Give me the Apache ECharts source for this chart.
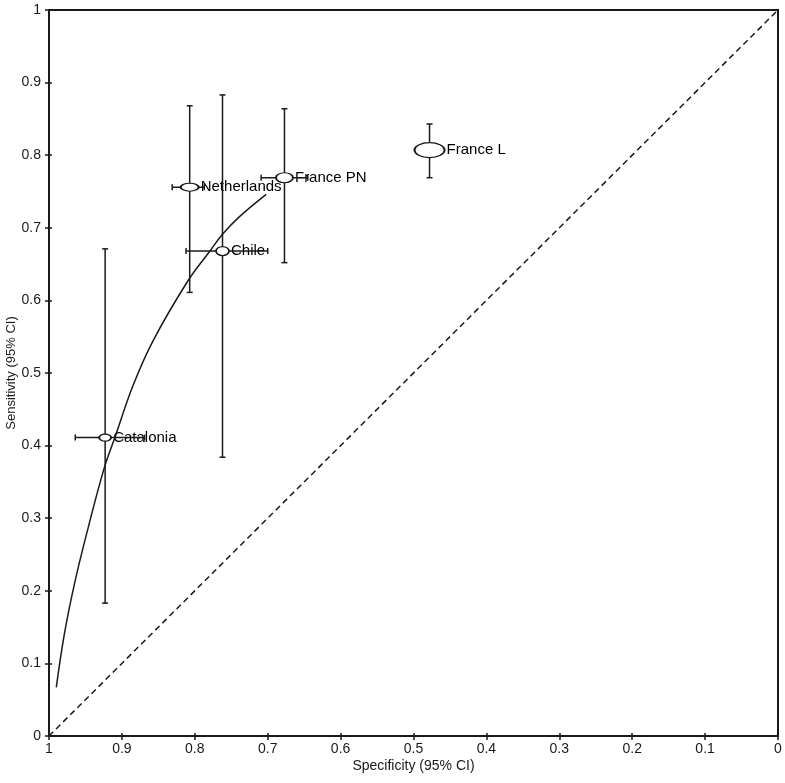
<!DOCTYPE html>
<html>
<head>
<meta charset="utf-8">
<script src="https://cdn.jsdelivr.net/npm/echarts@6/dist/echarts.min.js"></script>
<style>
  html, body { margin: 0; padding: 0; background: #fff; }
  #chart { width: 785px; height: 783px; }
</style>
</head>
<body>
<div id="chart"></div>
<script>
// studies and their estimates
const studies = ['Catalonia', 'Netherlands', 'Chile', 'France PN', 'France L']
const specificity = [0.923, 0.807, 0.762, 0.677, 0.478]
const specLow = [0.869, 0.787, 0.700, 0.645, 0.468]
const specHigh = [0.964, 0.831, 0.812, 0.709, 0.488]
const sensitivity = [0.411, 0.756, 0.668, 0.769, 0.807]
const sensLow = [0.183, 0.611, 0.384, 0.652, 0.769]
const sensHigh = [0.671, 0.868, 0.883, 0.864, 0.843]

// SROC curve, specificity / sensitivity pairs
const srocSpec = [0.990, 0.979, 0.965, 0.947, 0.924, 0.910, 0.885, 0.858, 0.810, 0.780, 0.762, 0.739, 0.702]
const srocSens = [0.067, 0.140, 0.210, 0.284, 0.370, 0.410, 0.482, 0.543, 0.626, 0.667, 0.691, 0.715, 0.746]

// chance line
const chanceSpec = [1, 0]
const chanceSens = [0, 1]

// marker size in px (study weight), width x height
const markerSize = [[12, 7], [18, 8], [13, 9], [17, 10], [30, 15]]

const font = 'Liberation Sans, Arial, sans-serif'
const ink = '#1a1a1a'
const ellipsePath = 'path://M0,1A1,1,0,1,1,2,1A1,1,0,1,1,0,1Z'

const pointData = studies.map((name, i) => ({ name: name, value: [specificity[i], sensitivity[i]] }))
const barData = studies.map((name, i) => [specificity[i], sensitivity[i], specLow[i], specHigh[i], sensLow[i], sensHigh[i]])

// axes are pulled 3px into the plot so the 7px ticks cross the frame line
const tickShift = 3

const option = {
  animation: false,
  backgroundColor: '#fff',
  grid: {
    left: 49,
    right: 7,
    top: 10,
    bottom: 47,
    outerBoundsMode: 'none',
    containLabel: false,
    show: true,
    borderColor: ink,
    borderWidth: 2
  },
  xAxis: {
    type: 'value',
    inverse: true,
    min: 0,
    max: 1,
    interval: 0.1,
    position: 'bottom',
    offset: -tickShift,
    name: 'Specificity (95% CI)',
    nameLocation: 'middle',
    nameGap: 23 + tickShift,
    nameMoveOverlap: false,
    nameTextStyle: { fontFamily: font, fontSize: 14, color: ink },
    axisLine: { show: false, onZero: false },
    splitLine: { show: false },
    axisTick: { show: true, inside: false, length: 4 + tickShift, lineStyle: { color: ink, width: 1.5 } },
    axisLabel: { fontFamily: font, fontSize: 14, color: ink, margin: 6 + tickShift }
  },
  yAxis: {
    type: 'value',
    min: 0,
    max: 1,
    interval: 0.1,
    position: 'left',
    offset: -tickShift,
    name: 'Sensitivity (95% CI)',
    nameLocation: 'middle',
    nameGap: 31 + tickShift,
    nameMoveOverlap: false,
    nameTextStyle: { fontFamily: font, fontSize: 13, color: ink },
    axisLine: { show: false, onZero: false },
    splitLine: { show: false },
    axisTick: { show: true, inside: false, length: 4 + tickShift, lineStyle: { color: ink, width: 1.5 } },
    axisLabel: { fontFamily: font, fontSize: 14, color: ink, margin: 8 + tickShift }
  },
  series: [
    {
      // study names, drawn under the bars like in the original
      type: 'scatter',
      z: 1,
      symbol: ellipsePath,
      symbolSize: (v, p) => markerSize[p.dataIndex],
      itemStyle: { color: 'rgba(0,0,0,0)', opacity: 1 },
      label: {
        show: true,
        position: 'right',
        distance: 2,
        formatter: '{b}',
        fontFamily: font,
        fontSize: 15,
        color: '#000',
        opacity: 1,
        textBorderWidth: 0
      },
      data: pointData
    },
    {
      type: 'line',
      z: 2,
      symbol: 'none',
      lineStyle: { color: ink, width: 1.5, type: [6, 4] },
      data: chanceSpec.map((s, i) => [s, chanceSens[i]])
    },
    {
      type: 'line',
      z: 2,
      symbol: 'none',
      smooth: 0.4,
      lineStyle: { color: ink, width: 1.5 },
      data: srocSpec.map((s, i) => [s, srocSens[i]])
    },
    {
      // 95% CI bars in both directions
      type: 'custom',
      z: 3,
      encode: { x: [0, 2, 3], y: [1, 4, 5] },
      renderItem: function (params, api) {
        const sx = api.value(0)
        const sy = api.value(1)
        const left = api.coord([api.value(3), sy])
        const right = api.coord([api.value(2), sy])
        const top = api.coord([sx, api.value(5)])
        const bottom = api.coord([sx, api.value(4)])
        const cap = 3
        const style = { stroke: ink, lineWidth: 1.5 }
        const seg = (x1, y1, x2, y2) => ({ type: 'line', shape: { x1, y1, x2, y2 }, style })
        return {
          type: 'group',
          children: [
            seg(top[0], top[1], bottom[0], bottom[1]),
            seg(top[0] - cap, top[1], top[0] + cap, top[1]),
            seg(bottom[0] - cap, bottom[1], bottom[0] + cap, bottom[1]),
            seg(left[0], left[1], right[0], right[1]),
            seg(left[0], left[1] - cap, left[0], left[1] + cap),
            seg(right[0], right[1] - cap, right[0], right[1] + cap)
          ]
        }
      },
      data: barData
    },
    {
      type: 'scatter',
      z: 4,
      symbol: ellipsePath,
      symbolSize: (v, p) => markerSize[p.dataIndex],
      itemStyle: { color: '#fff', borderColor: ink, borderWidth: 1.5, opacity: 1 },
      data: pointData
    }
  ]
}

const myChart = echarts.init(document.getElementById('chart'))
myChart.setOption(option)
</script>
</body>
</html>
